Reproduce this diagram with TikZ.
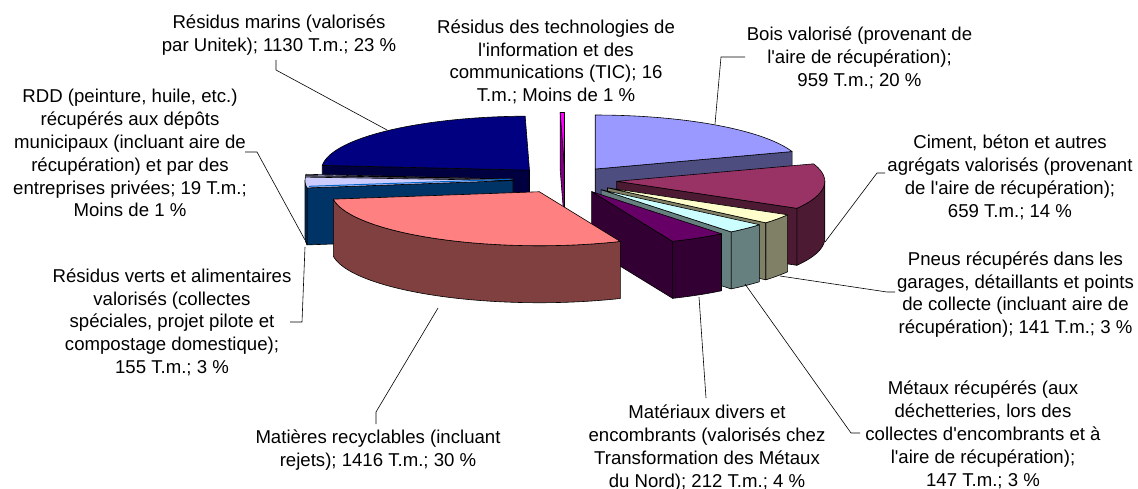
\documentclass[tikz,border=0pt]{standalone}
\usepackage{fontspec}
\setmainfont{Liberation Sans}
\definecolor{bois}{HTML}{9999FF}\definecolor{boisS}{HTML}{4D4D80}
\definecolor{ciment}{HTML}{993366}\definecolor{cimentS}{HTML}{4D1A33}
\definecolor{pneus}{HTML}{FFFFCC}\definecolor{pneusS}{HTML}{808066}
\definecolor{metaux}{HTML}{CCFFFF}\definecolor{metauxS}{HTML}{668080}
\definecolor{materiaux}{HTML}{660066}\definecolor{materiauxS}{HTML}{330033}
\definecolor{matieres}{HTML}{FF8080}\definecolor{matieresS}{HTML}{804040}
\definecolor{verts}{HTML}{0066CC}\definecolor{vertsS}{HTML}{003366}
\definecolor{rdd}{HTML}{CCCCFF}\definecolor{rddS}{HTML}{666680}
\definecolor{marins}{HTML}{000080}\definecolor{marinsS}{HTML}{000040}
\definecolor{tic}{HTML}{FF00FF}\definecolor{ticS}{HTML}{800080}
\newcommand{\ap}{\textquotesingle}
\newcommand{\SetApex}[2]{%
  \pgfmathsetmacro\SlM{(#1+#2)/2}%
  \pgfmathsetmacro\Ax{565+52*sin(\SlM)}%
  \pgfmathsetmacro\Ay{180-13.5*cos(\SlM)}}
\newcommand{\TopFace}[3]{%
  \filldraw[fill=#3,pieline] (\Ax,\Ay) -- plot[domain=#1:#2,samples=50,variable=\t] ({\Ax+208*sin(\t)},{\Ay-54*cos(\t)}) -- cycle;}
\newcommand{\RadFace}[2]{%
  \filldraw[fill=#2,pieline] (\Ax,\Ay) -- ({\Ax+208*sin(#1)},{\Ay-54*cos(#1)}) -- ({\Ax+208*sin(#1)},{\Ay-54*cos(#1)+57}) -- (\Ax,{\Ay+57}) -- cycle;}
\newcommand{\Wall}[3]{%
  \filldraw[fill=#3,pieline] plot[domain=#1:#2,samples=50,variable=\t] ({\Ax+208*sin(\t)},{\Ay-54*cos(\t)}) -- plot[domain=#1:#2,samples=50,variable=\t] ({\Ax+208*sin(#1+#2-\t)},{\Ay+57-54*cos(#1+#2-\t)}) -- cycle;}
\begin{document}
\begin{tikzpicture}[x=1pt,y=-1pt,
  pieline/.style={draw=black,line width=0.6pt,line join=round},
  leader/.style={draw=black,line width=0.6pt},
  lab/.style={font=\fontsize{18.6}{22.8}\selectfont,align=center,anchor=north,inner sep=0pt}]
\fill[white] (0,0) rectangle (1138,489);
\useasboundingbox (0,0) rectangle (1138,489);
% slices, back to front
\SetApex{275.005}{358.812}
\RadFace{275.005}{marinsS}
\TopFace{275.005}{358.812}{marins}
\SetApex{358.812}{360}
\RadFace{358.812}{ticS}
\TopFace{358.812}{360}{tic}
\SetApex{0}{71.124}
\RadFace{71.124}{boisS}
\TopFace{0}{71.124}{bois}
\SetApex{273.596}{275.005}
\RadFace{273.596}{rddS}
\TopFace{273.596}{275.005}{rdd}
\SetApex{262.1}{273.596}
\RadFace{262.1}{vertsS}
\Wall{262.1}{270}{vertsS}
\TopFace{262.1}{273.596}{rdd}
\draw[verts,line width=1pt] ({\Ax-3},{\Ay-1.2}) -- ({\Ax+208*sin(262.1)+2},{\Ay-54*cos(262.1)-1.6});
\SetApex{71.124}{120}
\Wall{90}{120}{cimentS}
\RadFace{120}{cimentS}
\TopFace{71.124}{120}{ciment}
\SetApex{120}{130.456}
\Wall{120}{130.456}{pneusS}
\RadFace{130.456}{pneusS}
\TopFace{120}{130.456}{pneus}
\SetApex{130.456}{141.358}
\Wall{130.456}{141.358}{metauxS}
\RadFace{141.358}{metauxS}
\TopFace{130.456}{141.358}{metaux}
\SetApex{141.358}{157.081}
\Wall{141.358}{157.081}{materiauxS}
\RadFace{157.081}{materiauxS}
\TopFace{141.358}{157.081}{materiaux}
\SetApex{157.081}{262.1}
\Wall{157.081}{262.1}{matieresS}
\TopFace{157.081}{262.1}{matieres}
% labels
\node[lab] (lmar) at (279,11.6) {\rule{0pt}{17pt}Résidus marins (valorisés\\par Unitek); 1130 T.m.; 23 \%};
\node[lab] (ltic) at (556,16.2) {\rule{0pt}{17pt}Résidus des technologies de\\l\ap information et des\\communications (TIC); 16\\T.m.; Moins de 1 \%};
\node[lab] (lbois) at (859.5,23.5) {\rule{0pt}{17pt}Bois valorisé (provenant de\\l\ap aire de récupération);\\959 T.m.; 20 \%};
\node[lab] (lrdd) at (130,85.7) {\rule{0pt}{17pt}RDD (peinture, huile, etc.)\\récupérés aux dépôts\\municipaux (incluant aire de\\récupération) et par des\\entreprises privées; 19 T.m.;\\Moins de 1 \%};
\node[lab] (lcim) at (1010,131.5) {\rule{0pt}{17pt}Ciment, béton et autres\\agrégats valorisés (provenant\\de l\ap aire de récupération);\\659 T.m.; 14 \%};
\node[lab] (lpneus) at (1015.5,248) {\rule{0pt}{17pt}Pneus récupérés dans les\\garages, détaillants et points\\de collecte (incluant aire de\\récupération); 141 T.m.; 3 \%};
\node[lab] (lverts) at (172,265) {\rule{0pt}{17pt}Résidus verts et alimentaires\\valorisés (collectes\\spéciales, projet pilote et\\compostage domestique);\\155 T.m.; 3 \%};
\node[lab] (lmet) at (983,377.6) {\rule{0pt}{17pt}Métaux récupérés (aux\\déchetteries, lors des\\collectes d\ap encombrants et à\\l\ap aire de récupération);\\147 T.m.; 3 \%};
\node[lab] (lmatx) at (707,401.6) {\rule{0pt}{17pt}Matériaux divers et\\encombrants (valorisés chez\\Transformation des Métaux\\du Nord); 212 T.m.; 4 \%};
\node[lab] (lmatr) at (378,426.6) {\rule{0pt}{17pt}Matières recyclables (incluant\\rejets); 1416 T.m.; 30 \%};
% leader points
\coordinate (m1) at (276,60); \coordinate (m2) at (276,70); \coordinate (m3) at (387,130);
\coordinate (r1) at (245,152); \coordinate (r2) at (257,152); \coordinate (r3) at (305,240);
\coordinate (v1) at (290,322); \coordinate (v2) at (302,322); \coordinate (v3) at (305,247);
\coordinate (t1) at (376,424); \coordinate (t2) at (376,412); \coordinate (t3) at (438,308);
\coordinate (x1) at (706,398); \coordinate (x2) at (699,297);
\coordinate (e1) at (860,433); \coordinate (e2) at (851,433); \coordinate (e3) at (745,284);
\coordinate (p1) at (895,292); \coordinate (p2) at (887,292); \coordinate (p3) at (780,276);
\coordinate (c1) at (885,173); \coordinate (c2) at (877,173); \coordinate (c3) at (825,242);
\coordinate (b1) at (745,57); \coordinate (b2) at (721,57); \coordinate (b3) at (715,124);
\draw[leader] (m1) -- (m2) -- (m3);
\draw[leader] (r1) -- (r2) -- (r3);
\draw[leader] (v1) -- (v2) -- (v3);
\draw[leader] (t1) -- (t2) -- (t3);
\draw[leader] (x1) -- (x2);
\draw[leader] (e1) -- (e2) -- (e3);
\draw[leader] (p1) -- (p2) -- (p3);
\draw[leader] (c1) -- (c2) -- (c3);
\draw[leader] (b1) -- (b2) -- (b3);
\end{tikzpicture}
\end{document}
